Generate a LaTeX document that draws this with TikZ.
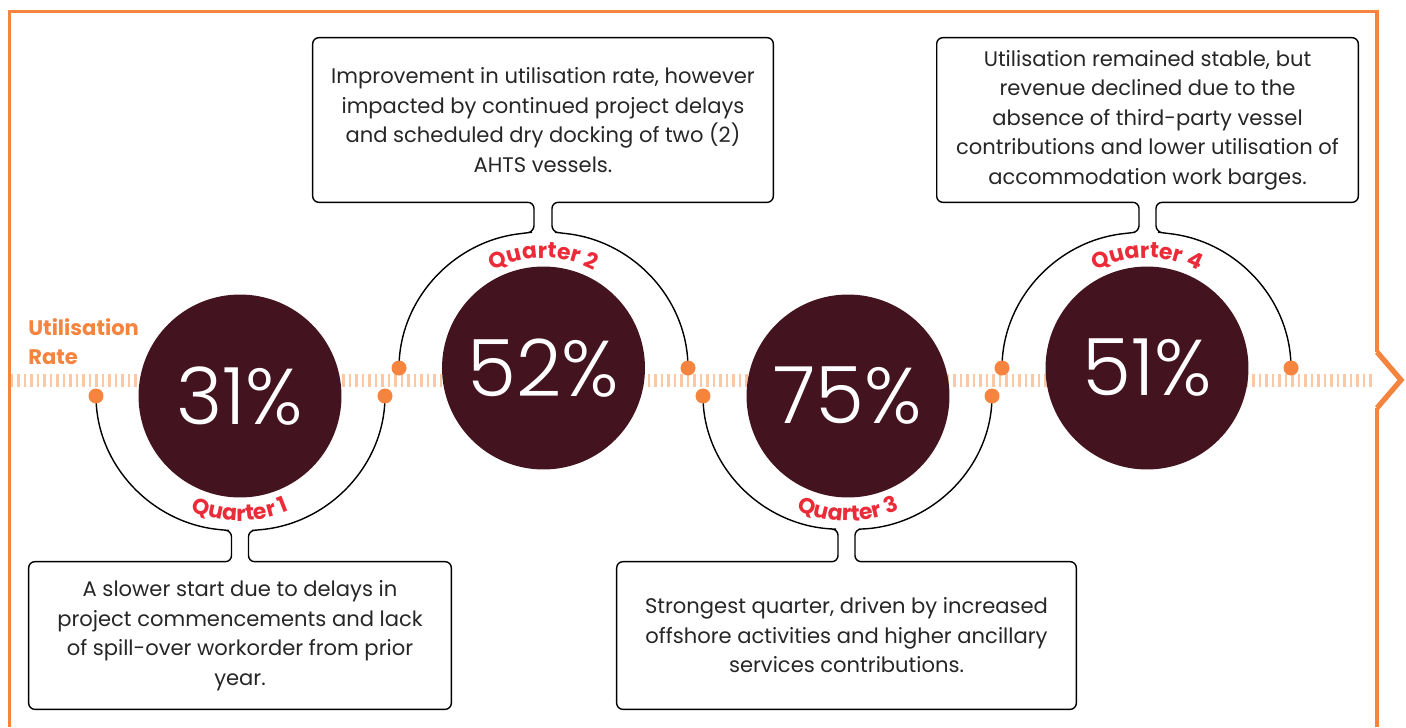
\documentclass[tikz,border=0pt]{standalone}
\usepackage{fontspec}
\setmainfont{Poppins}
\newfontfamily\ratefont{Poppins}[UprightFont=* Light]
\usetikzlibrary{calc,decorations.text}

\definecolor{frameorange}{HTML}{F5843F}
\definecolor{tickorange}{HTML}{FBC8A6}
\definecolor{maroon}{HTML}{43131F}
\definecolor{qred}{HTML}{EC2B39}
\definecolor{notegray}{HTML}{262626}

\tikzset{
  rate/.style={circle,fill=maroon,minimum size=4.06cm,inner sep=0pt,text=white,
    font=\ratefont\fontsize{45}{45}\selectfont},
  dot/.style={circle,fill=frameorange,minimum size=0.3cm,inner sep=0pt},
  note/.style={align=center,text=notegray,font=\fontsize{12}{16.8}\selectfont},
  link/.style={line width=0.8pt,rounded corners=3.5pt},
  qlabel/.style={decorate,decoration={text along path,text align=center,text color=qred,
    text={|\bfseries\fontsize{12.5}{12.5}\selectfont|#1}}}
}

\begin{document}
\begin{tikzpicture}[x=0.02cm,y=0.02cm]
\useasboundingbox (0,0) rectangle (1406,-727);

% frame, opened into an arrow on the right
\draw[frameorange,line width=2pt] (9.5,-727) -- (9.5,-11.5) -- (1377,-11.5) -- (1377,-352);
\draw[frameorange,line width=2pt] (1377,-408) -- (1377,-727);
\draw[frameorange,line width=3pt] (1377,-352) -- (1401,-380) -- (1377,-408);

% dashed axis
\foreach \x in {12,18.5,...,1372}
    \draw[tickorange,line width=1.4pt] (\x,-374) -- (\x,-387);

\node[anchor=north west,align=left,inner sep=0pt,text=frameorange,
  font=\bfseries\fontsize{12}{16.6}\selectfont] (axis) at (28,-318) {Utilisation\\Rate};

% Quarter 1
\node[rate] (c1) at (240,-396) {31\%};
\coordinate (d1a) at (96,-396);
\coordinate (d1b) at (385,-396);
\node[note,minimum width=8.44cm,minimum height=2.94cm] (n1) at (240,-635.5)
  {A slower start due to delays in\\project commencements and lack\\of spill-over workorder from prior\\year.};
\draw[link] (d1a) arc[start angle=180,end angle=263,x radius=144.5,y radius=135]
  -- ($(n1.north)+(-8.5,31)$) -- ($(n1.north)+(-8.5,0)$) -- (n1.north west) -- (n1.south west)
  -- (n1.south east) -- (n1.north east) -- ($(n1.north)+(8.5,0)$) -- ($(n1.north)+(8.5,31)$)
  -- ($(d1b)+(-126.9,-134)$) arc[start angle=277,end angle=360,x radius=144.5,y radius=135];
\path[qlabel=Quarter 1] (c1.center) ++(234:125) arc[start angle=234,end angle=306,radius=125];

% Quarter 2
\node[rate] (c2) at (543.5,-368) {52\%};
\coordinate (d2a) at (399,-368);
\coordinate (d2b) at (688,-368);
\node[note,minimum width=9.2cm,minimum height=3.28cm] (n2) at (543,-120)
  {Improvement in utilisation rate, however\\impacted by continued project delays\\and scheduled dry docking of two (2)\\AHTS vessels.};
\draw[link] (d2a) arc[start angle=180,end angle=97,x radius=144.5,y radius=136]
  -- ($(n2.south)+(-9,-29.5)$) -- ($(n2.south)+(-9,0)$) -- (n2.south west) -- (n2.north west)
  -- (n2.north east) -- (n2.south east) -- ($(n2.south)+(9,0)$) -- ($(n2.south)+(9,-29.5)$)
  -- ($(d2b)+(-126.9,135)$) arc[start angle=83,end angle=0,x radius=144.5,y radius=136];
\path[qlabel=Quarter 2] (c2.center) ++(130:110) arc[start angle=130,end angle=50,radius=110];

% Quarter 3
\node[rate] (c3) at (848,-396) {75\%};
\coordinate (d3a) at (703,-396);
\coordinate (d3b) at (992,-396);
\node[note,minimum width=9.18cm,minimum height=2.94cm] (n3) at (846.5,-635.5)
  {Strongest quarter, driven by increased\\offshore activities and higher ancillary\\services contributions.};
\draw[link] (d3a) arc[start angle=180,end angle=263,x radius=144.5,y radius=134]
  -- ($(n3.north)+(-8.5,32.5)$) -- ($(n3.north)+(-8.5,0)$) -- (n3.north west) -- (n3.south west)
  -- (n3.south east) -- (n3.north east) -- ($(n3.north)+(8.5,0)$) -- ($(n3.north)+(8.5,32.5)$)
  -- ($(d3b)+(-126.9,-133)$) arc[start angle=277,end angle=360,x radius=144.5,y radius=134];
\path[qlabel=Quarter 3] (c3.center) ++(234:125) arc[start angle=234,end angle=306,radius=125];

% Quarter 4
\node[rate] (c4) at (1147,-368) {51\%};
\coordinate (d4a) at (1002,-368);
\coordinate (d4b) at (1291,-368);
\node[note,minimum width=8.42cm,minimum height=3.28cm] (n4) at (1147.5,-120)
  {Utilisation remained stable, but\\revenue declined due to the\\absence of third-party vessel\\contributions and lower utilisation of\\accommodation work barges.};
\draw[link] (d4a) arc[start angle=180,end angle=97,x radius=144.5,y radius=136]
  -- ($(n4.south)+(-8.5,-29.5)$) -- ($(n4.south)+(-8.5,0)$) -- (n4.south west) -- (n4.north west)
  -- (n4.north east) -- (n4.south east) -- ($(n4.south)+(8.5,0)$) -- ($(n4.south)+(8.5,-29.5)$)
  -- ($(d4b)+(-126.9,135)$) arc[start angle=83,end angle=0,x radius=144.5,y radius=136];
\path[qlabel=Quarter 4] (c4.center) ++(130:110) arc[start angle=130,end angle=50,radius=110];

% dots where the arcs meet the axis
\foreach \d in {d1a,d1b,d2a,d2b,d3a,d3b,d4a,d4b}
    \node[dot] (p\d) at (\d) {};
\end{tikzpicture}
\end{document}
